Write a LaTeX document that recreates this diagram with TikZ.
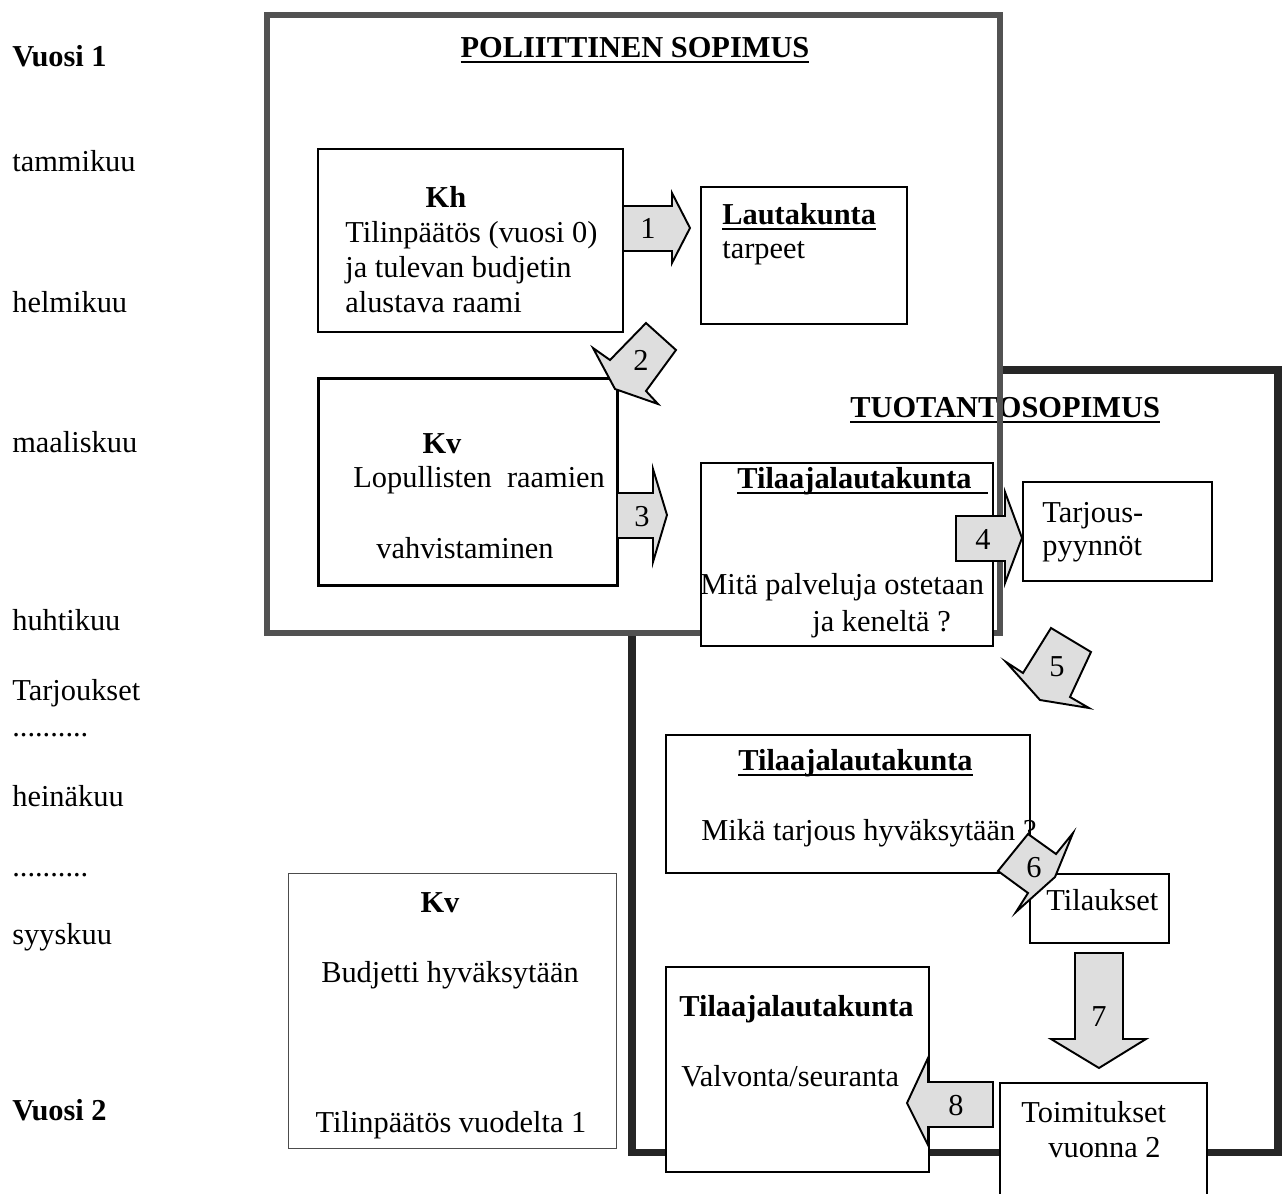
\documentclass[tikz,border=0pt]{standalone}
\usepackage{fontspec}
\setmainfont{Liberation Serif}

\newcommand{\dfont}{\fontsize{17.3}{19.6}\selectfont}
\newsavebox{\ulbox}
\newcommand{\uln}[1]{\sbox{\ulbox}{#1}\rlap{\rule[-3.4pt]{\wd\ulbox}{1.3pt}}\usebox{\ulbox}}

\tikzset{
  infobox/.style={draw, fill=white, line width=1.1pt, inner sep=0pt, anchor=north west},
  txt/.style={inner sep=0pt, anchor=base west},
  ctxt/.style={inner sep=0pt, anchor=base},
  numarrow/.style={draw, fill=black!13, line width=1.1pt},
  polframe/.style={draw=black!68, line width=3.4pt},
  prodframe/.style={draw=black!85, line width=4pt}
}

\begin{document}
\begin{tikzpicture}[x=0.02cm, y=-0.02cm, font=\dfont]
            \clip (0,0) rectangle (1282,1194);

            % Time line on the left
            \node[txt] (year1) at (12,66) {\textbf{Vuosi 1}};
            \node[txt] (jan) at (12,171) {tammikuu};
            \node[txt] (feb) at (12,312) {helmikuu};
            \node[txt] (mar) at (12,452) {maaliskuu};
            \node[txt] (apr) at (12,630) {huhtikuu};
            \node[txt] (offers) at (12,700) {Tarjoukset};
            \node[txt] (dotsA) at (12,736) {..........};
            \node[txt] (jul) at (12,806) {heinäkuu};
            \node[txt] (dotsB) at (12,876) {..........};
            \node[txt] (sep) at (12,944) {syyskuu};
            \node[txt] (year2) at (12,1120) {\textbf{Vuosi 2}};

            % Draw the two contract frames
            \draw[prodframe] (632,370) rectangle (1278,1152);
            \fill[white] (267,15) rectangle (1000,633);
            \node[txt] (prodtitle) at (850,417) {\uln{\textbf{TUOTANTOSOPIMUS}}};
            \draw[polframe] (267,15) rectangle (1000,633);
            \node[ctxt] (poltitle) at (635,57) {\uln{\textbf{POLIITTINEN SOPIMUS}}};

            % Draw the boxes
            \node[infobox, minimum width=6.10cm, minimum height=3.66cm] (kh) at (317,148) {};
            \node[infobox, minimum width=4.12cm, minimum height=2.74cm] (board) at (700,186) {};
            \node[infobox, line width=1.7pt, minimum width=5.98cm, minimum height=4.14cm] (kvA) at (317,377) {};
            \node[infobox, minimum width=5.84cm, minimum height=3.66cm] (buyerA) at (700,462) {};
            \node[infobox, minimum width=3.78cm, minimum height=1.98cm] (request) at (1022,481) {};
            \node[infobox, minimum width=7.28cm, minimum height=2.76cm] (buyerB) at (665,734) {};
            \node[infobox, minimum width=2.78cm, minimum height=1.38cm] (orders) at (1029,873) {};
            \node[infobox, minimum width=5.26cm, minimum height=4.10cm] (buyerC) at (665,966) {};
            \node[infobox, minimum width=4.14cm, minimum height=2.66cm] (deliv) at (999,1082) {};
            \node[infobox, draw=black!70, line width=0.8pt, minimum width=6.56cm, minimum height=5.50cm] (kvB) at (288,873) {};

            % Box texts
            \node[ctxt] (khA) at (446,207) {\textbf{Kh}};
            \node[txt] (khB) at (345,242) {Tilinpäätös (vuosi 0)};
            \node[txt] (khC) at (345,277) {ja tulevan budjetin};
            \node[txt] (khD) at (345,312) {alustava raami};

            \node[txt] (boardA) at (722,224) {\uln{\textbf{Lautakunta}}};
            \node[txt] (boardB) at (722,258) {tarpeet};

            \node[ctxt] (kvAa) at (442,453) {\textbf{Kv}};
            \node[txt] (kvAb) at (353,487) {Lopullisten\ \ raamien};
            \node[ctxt] (kvAc) at (465,558) {vahvistaminen};

            \node[txt] (buyerAa) at (737,488) {\uln{\textbf{Tilaajalautakunta}\hspace{0.55em}}};
            \node[txt] (buyerAb) at (700,594) {Mitä palveluja ostetaan};
            \node[txt] (buyerAc) at (812,631) {ja keneltä ?};

            \node[txt] (requestA) at (1042,522) {Tarjous-};
            \node[txt] (requestB) at (1042,555) {pyynnöt};

            \node[txt] (buyerBa) at (738,770) {\uln{\textbf{Tilaajalautakunta}}};
            \node[txt] (buyerBb) at (701,840) {Mikä tarjous hyväksytään ?};

            \node[txt] (ordersA) at (1046,910) {Tilaukset};

            \node[txt] (buyerCa) at (679,1016) {\textbf{Tilaajalautakunta}};
            \node[txt] (buyerCb) at (681,1086) {Valvonta/seuranta};

            \node[txt] (delivA) at (1021,1122) {Toimitukset};
            \node[txt] (delivB) at (1048,1157) {vuonna 2};

            \node[ctxt] (kvBa) at (440,912) {\textbf{Kv}};
            \node[ctxt] (kvBb) at (450,982) {Budjetti hyväksytään};
            \node[ctxt] (kvBc) at (451,1132) {Tilinpäätös vuodelta 1};

            % Draw the numbered arrows
            \draw[numarrow] (623,206) -- (672,206) -- (672,193) -- (690,228) -- (672,263) -- (672,251) -- (623,251) -- cycle;
            \draw[numarrow] (646,323) -- (676,350) -- (646,391) -- (658,404) -- (615,389) -- (593,348) -- (610,360) -- cycle;
            \draw[numarrow] (617,493) -- (653,493) -- (653,469) -- (667,515) -- (653,562) -- (653,538) -- (617,538) -- cycle;
            \draw[numarrow] (956,516) -- (1005,516) -- (1005,492) -- (1022,538) -- (1005,583) -- (1005,561) -- (956,561) -- cycle;
            \draw[numarrow] (1051,628) -- (1091,652) -- (1070,697) -- (1089,708) -- (1040,700) -- (1006,662) -- (1023,673) -- cycle;
            \draw[numarrow] (998,871) -- (1028,834) -- (1056,854) -- (1073,833) -- (1055,877) -- (1016,912) -- (1028,893) -- cycle;
            \draw[numarrow] (1075,953) -- (1123,953) -- (1123,1039) -- (1146,1039) -- (1099,1068) -- (1051,1039) -- (1075,1039) -- cycle;
            \draw[numarrow] (993,1082) -- (993,1127) -- (928,1127) -- (928,1145) -- (907,1103) -- (928,1058) -- (928,1082) -- cycle;

            \node (n1) at (648,228) {1};
            \node (n2) at (641,360) {2};
            \node (n3) at (642,517) {3};
            \node (n4) at (983,539) {4};
            \node (n5) at (1057,667) {5};
            \node (n6) at (1034,868) {6};
            \node (n7) at (1099,1017) {7};
            \node (n8) at (956,1106) {8};

        \end{tikzpicture}
\end{document}
